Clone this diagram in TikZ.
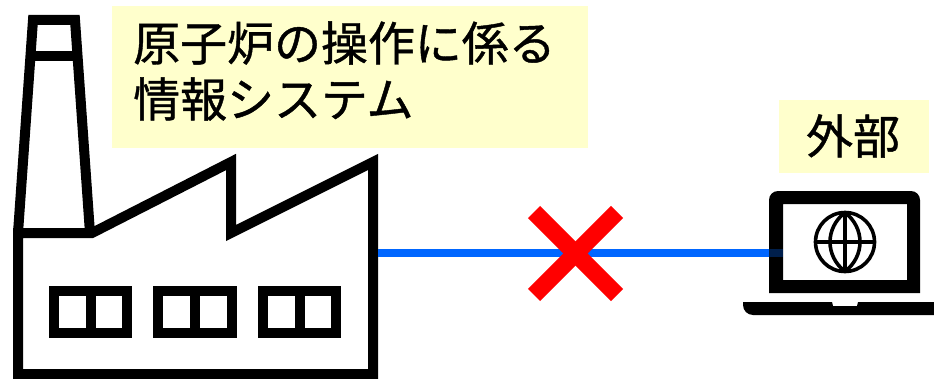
\documentclass[tikz,border=0pt]{standalone}
\usepackage{fontspec}
\newfontfamily\jpfont[FakeBold=0.9]{Noto Sans CJK JP}
\tikzset{
  px/.style={x=0.75pt,y=-0.75pt},
  icon/.style={draw=black,line width=7.5pt,miter limit=10,line join=miter},
  thin icon/.style={draw=black,line width=2.7pt},
  label text/.style={font=\jpfont\fontsize{35.2pt}{42pt}\selectfont,inner sep=0pt,anchor=west,align=left,text=black},
  link/.style={draw=linkblue,line width=6pt},
  cross/.style={draw=crossred,line width=12.8pt},
}
\definecolor{labelyellow}{HTML}{FFFFCC}
\definecolor{linkblue}{HTML}{0066FF}
\definecolor{crossred}{HTML}{FF0000}
\begin{document}
\begin{tikzpicture}[px]
\useasboundingbox (0,0) rectangle (934,378);
% labels
\fill[labelyellow] (112,6) rectangle (588,148);
\fill[labelyellow] (779,100) rectangle (929,173);
\node[label text] (systemlabel1) at (133,43) {原子炉の操作に係る};
\node[label text] (systemlabel2) at (133,99) {情報システム};
\node[label text,anchor=center] (outsidelabel) at (853,136) {外部};
% factory
\draw[icon] (18,233) -- (33,20) -- (75,20) -- (90,233);
\draw[icon] (18,233) -- (92,233) -- (231,162) -- (231,233) -- (373,162) -- (373,374) -- (18,374) -- cycle;
\draw[icon] (30,56) -- (80,56);
\foreach \l/\m/\r in {54/90.5/127,158/195/232,263/300/336}{
  \draw[icon] (\l,291) rectangle (\r,333);
  \draw[icon] (\m,291) -- (\m,333);
}
\coordinate (factoryport) at (378,253);
% laptop
\fill[black,even odd rule]
  (769,293) -- (769,200) arc[start angle=180,end angle=270,radius=9] -- (911,191)
  arc[start angle=270,end angle=360,radius=9] -- (920,293) -- cycle
  (783,204) rectangle (907,280);
\fill[black] (743,302) -- (832,302) -- (833,306) -- (857,306) -- (858,302) -- (934,302)
  -- (934,315) -- (753,315) arc[start angle=90,end angle=180,radius=10] -- cycle;
\draw[thin icon] (845,242) circle (29.5);
\draw[thin icon] (816,242) -- (874,242) (845,212.5) -- (845,271.5);
\draw[thin icon] (845,212.5) .. controls (825,228) and (825,256) .. (845,271.5);
\draw[thin icon] (845,212.5) .. controls (865,228) and (865,256) .. (845,271.5);
\coordinate (laptopport) at (769,253);
\coordinate (laptopscreen) at (783,253);
% connector and cross
\draw[link] (factoryport) -- (laptopport);
\draw[draw=black!70!linkblue,line width=6pt] (laptopport) -- (laptopscreen);
\coordinate (x1) at (534,212);
\coordinate (x2) at (617,295);
\coordinate (x3) at (617,212);
\coordinate (x4) at (534,295);
\draw[cross] (x1) -- (x2);
\draw[cross] (x3) -- (x4);
\end{tikzpicture}
\end{document}
